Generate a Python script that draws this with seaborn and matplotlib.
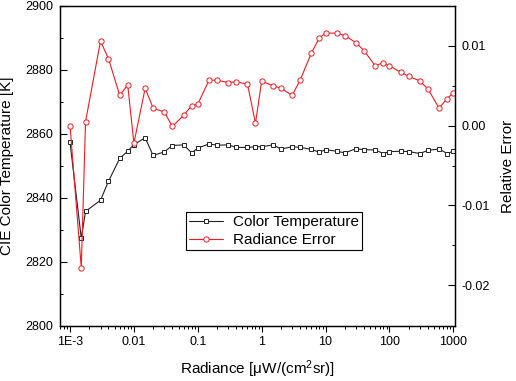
import numpy as np
import pandas as pd
import matplotlib
matplotlib.use('Agg')
import matplotlib.pyplot as plt
from matplotlib.ticker import MultipleLocator, FixedLocator, FixedFormatter, LogLocator, NullFormatter
import seaborn as sns

# --- data ---
radiance = [1e-3, 1.5e-3, 1.75e-3, 3e-3, 4e-3, 6e-3, 8e-3,
            1e-2, 1.5e-2, 2e-2, 3e-2, 4e-2, 6e-2, 8e-2,
            0.1, 0.15, 0.2, 0.3, 0.4, 0.6, 0.8,
            1, 1.5, 2, 3, 4, 6, 8,
            10, 15, 20, 30, 40, 60, 80,
            100, 150, 200, 300, 400, 600, 800, 1000]

color_temp = [2857.4, 2827.4, 2835.8, 2839.3, 2845.2, 2852.4, 2854.6,
              2856.7, 2858.8, 2853.3, 2854.4, 2856.4, 2856.6, 2854.1,
              2855.6, 2856.9, 2856.5, 2856.6, 2855.8, 2855.8, 2856.0,
              2856.0, 2856.6, 2855.3, 2856.0, 2855.8, 2855.2, 2854.3,
              2855.1, 2854.6, 2854.1, 2855.4, 2855.1, 2855.0, 2853.9,
              2854.5, 2854.6, 2854.5, 2853.9, 2854.9, 2855.3, 2853.9, 2854.6]

rel_error = [0.0000, -0.0178, 0.0005, 0.0106, 0.0084, 0.0038, 0.0051,
             -0.0022, 0.0047, 0.0022, 0.0017, -0.0001, 0.0013, 0.0025,
             0.0027, 0.0057, 0.0057, 0.0054, 0.0055, 0.0052, 0.0003,
             0.0056, 0.0050, 0.0047, 0.0038, 0.0057, 0.0091, 0.0110,
             0.0116, 0.0116, 0.0113, 0.0104, 0.0094, 0.0075, 0.0079,
             0.0075, 0.0067, 0.0062, 0.0056, 0.0046, 0.0022, 0.0034, 0.0041]

x_ticks = [1e-3, 1e-2, 1e-1, 1, 10, 100, 1000]
x_ticklabels = ['1E-3', '0.01', '0.1', '1', '10', '100', '1000']
left_ticks = [2800, 2820, 2840, 2860, 2880, 2900]
right_ticks = [-0.02, -0.01, 0.00, 0.01]
right_ticklabels = ['-0.02', '-0.01', '0.00', '0.01']
series_labels = ['Color Temperature', 'Radiance Error']

# --- style ---
sns.set_theme(style='ticks')
plt.rcParams['font.family'] = ['Liberation Sans', 'DejaVu Sans']
plt.rcParams['mathtext.fontset'] = 'custom'
plt.rcParams['mathtext.rm'] = 'Liberation Sans'
plt.rcParams['mathtext.it'] = 'Liberation Sans:italic'
plt.rcParams['axes.unicode_minus'] = False
plt.rcParams['text.color'] = 'black'
plt.rcParams['axes.labelcolor'] = 'black'
plt.rcParams['xtick.color'] = 'black'
plt.rcParams['ytick.color'] = 'black'
plt.rcParams['axes.edgecolor'] = 'black'
plt.rcParams['axes.linewidth'] = 0.9

df = pd.DataFrame({'radiance': radiance, 'temp': color_temp, 'err': rel_error})

fig = plt.figure(figsize=(5.16, 3.81), dpi=100)
ax = fig.add_axes([0.1163, 0.1444, 0.7655, 0.8399])
ax.set_xscale('log')
ax2 = ax.twinx()

sns.lineplot(data=df, x='radiance', y='temp', ax=ax, color='#222222', errorbar=None,
             marker='s', markersize=3.4, markerfacecolor='white', markeredgecolor='#222222',
             markeredgewidth=0.7, linewidth=0.8, legend=False)
sns.lineplot(data=df, x='radiance', y='err', ax=ax2, color='#ec1c24', errorbar=None,
             marker='o', markersize=3.8, markerfacecolor='white', markeredgecolor='#ec1c24',
             markeredgewidth=0.7, linewidth=0.8, legend=False)

# x axis
ax.set_xlim(6.97e-4, 1063)
ax.xaxis.set_major_locator(FixedLocator(x_ticks))
ax.xaxis.set_major_formatter(FixedFormatter(x_ticklabels))
ax.xaxis.set_minor_locator(LogLocator(base=10, subs=np.arange(2, 10), numticks=20))
ax.xaxis.set_minor_formatter(NullFormatter())
ax.tick_params(axis='x', which='major', direction='out', length=4.5, width=0.8, labelsize=9, pad=3)
ax.tick_params(axis='x', which='minor', direction='out', length=2.5, width=0.7)
ax.set_xlabel('Radiance [\u03bcW/(cm$^{2}$sr)]', fontsize=11, labelpad=7)

# left axis
ax.set_ylim(2800, 2900)
ax.yaxis.set_major_locator(FixedLocator(left_ticks))
ax.yaxis.set_minor_locator(MultipleLocator(10))
ax.tick_params(axis='y', which='major', direction='in', length=5, width=0.8, labelsize=9, pad=5)
ax.tick_params(axis='y', which='minor', direction='in', length=2.5, width=0.7)
ax.set_ylabel('CIE Color Temperature [K]', fontsize=11, labelpad=8)

# right axis
ax2.set_ylim(-0.0251, 0.015)
ax2.yaxis.set_major_locator(FixedLocator(right_ticks))
ax2.yaxis.set_major_formatter(FixedFormatter(right_ticklabels))
ax2.yaxis.set_minor_locator(FixedLocator([-0.015, -0.005, 0.005]))
ax2.tick_params(axis='y', which='major', direction='in', length=5, width=0.8, labelsize=9, pad=5)
ax2.tick_params(axis='y', which='minor', direction='in', length=2.5, width=0.7)
ax2.set_ylabel('Relative Error', fontsize=11, labelpad=8)

for a in (ax, ax2):
    a.grid(False)
    for sp in a.spines.values():
        sp.set_linewidth(0.9)
        sp.set_color('black')

handles = [ax.lines[0], ax2.lines[0]]
leg = ax2.legend(handles, series_labels, loc='upper left', bbox_to_anchor=(0.319, 0.356),
                 borderaxespad=0, frameon=True, fancybox=False, framealpha=1,
                 edgecolor='black', fontsize=11, handlelength=2.2, handletextpad=0.7,
                 borderpad=0.2, labelspacing=0.25)
leg.get_frame().set_linewidth(0.8)

fig.savefig('out.png', dpi=100)
